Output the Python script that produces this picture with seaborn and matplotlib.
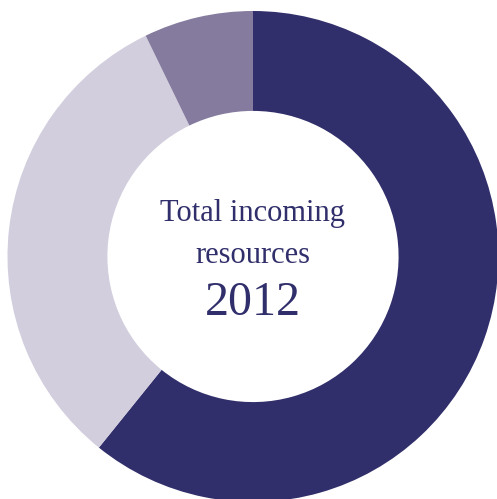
import matplotlib
matplotlib.use("Agg")
import matplotlib.pyplot as plt
import seaborn as sns

# Share of total incoming resources (percent), clockwise from 12 o'clock
categories = ["Voluntary income", "Charitable activities", "Other income"]
shares = [60.8, 32.0, 7.2]
colors = ["#312F6B", "#D2CEDE", "#857B9E"]

title_lines = ["Total incoming", "resources"]
year_label = "2012"

sns.set_theme(style="white")
plt.rcParams["font.family"] = ["Liberation Serif", "DejaVu Serif"]

fig = plt.figure(figsize=(4.97, 4.99), dpi=100)
ax = fig.add_axes([0, 0, 1, 1])

ax.pie(
    shares,
    colors=colors,
    startangle=90,
    counterclock=False,
    radius=1.0,
    wedgeprops=dict(width=0.407, linewidth=0),
)

ax.set_xlim(-1.0305, 0.9939)
ax.set_ylim(-0.9878, 1.0448)
ax.set_aspect("auto")
ax.axis("off")

text_color = "#312F6B"
ax.text(0, 0.1446, title_lines[0], ha="center", va="baseline",
        fontsize=22, color=text_color)
ax.text(0, -0.0265, title_lines[1], ha="center", va="baseline",
        fontsize=22, color=text_color)
ax.text(0, -0.2383, year_label, ha="center", va="baseline",
        fontsize=34.5, color=text_color)

fig.savefig("out.png", dpi=100, facecolor="white")
